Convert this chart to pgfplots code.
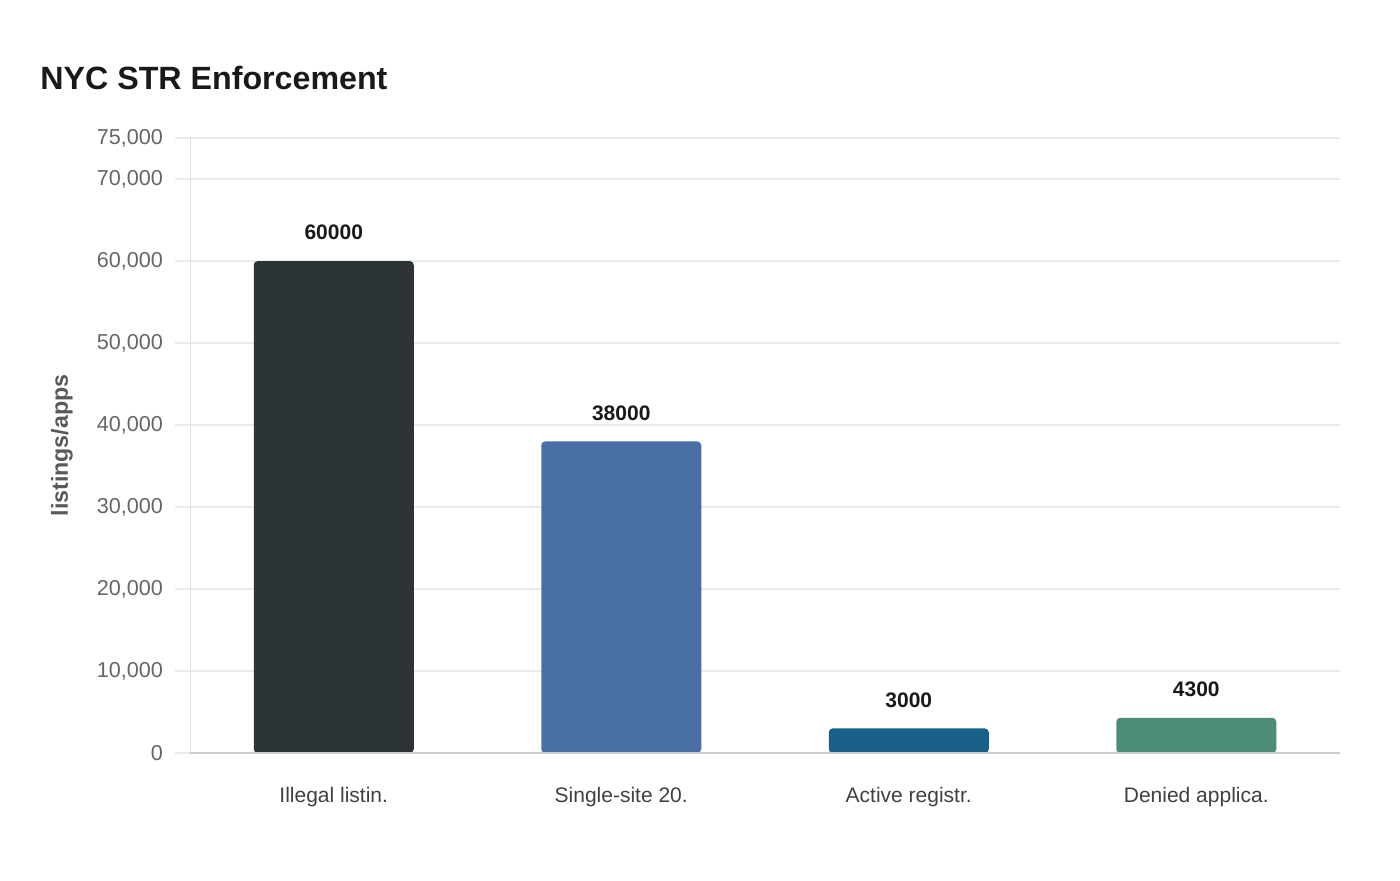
\documentclass[border=0pt]{standalone}
\usepackage{fontspec}
\setmainfont{Liberation Sans}
\usepackage{pgfplots}
\pgfplotsset{compat=1.18}
\definecolor{barA}{HTML}{2D3436}
\definecolor{barB}{HTML}{4A6FA5}
\definecolor{barC}{HTML}{186088}
\definecolor{barD}{HTML}{4E8C7A}
\definecolor{gridc}{HTML}{EBEBEB}
\definecolor{ticktext}{HTML}{666666}
\begin{document}
\begin{tikzpicture}
\path[use as bounding box] (-95pt,-63.5pt) rectangle (605pt,376.5pt);
\begin{axis}[
    at={(0,0)}, anchor=south west,
    scale only axis,
    width=575pt, height=307.5pt,
    ybar, bar width=80pt, bar shift=0pt,
    xmin=-0.5, xmax=3.5,
    ymin=0, ymax=75000,
    xtick={0,1,2,3},
    xticklabels={Illegal listin., Single-site 20., Active registr., Denied applica.},
    ytick={0,10000,20000,30000,40000,50000,60000,70000,75000},
    scaled y ticks=false,
    /pgf/number format/.cd, 1000 sep={,}, assume math mode=true, /pgfplots/.cd,
    axis x line=bottom, axis y line=left,
    x axis line style={-, draw=black!20, line width=0.8pt},
    y axis line style={-, draw=black!13},
    ymajorgrids, grid style={gridc, line width=0.8pt},
    ytick style={gridc, line width=0.8pt},
    xtick style={draw=none},
    major tick length=7.5pt, tick align=outside,
    yticklabel style={font=\fontsize{10.8}{12}\selectfont, text=ticktext, xshift=-2.5pt},
    xticklabel style={font=\fontsize{10.5}{12}\selectfont, text=black!75, yshift=-6pt},
    ylabel={listings/apps},
    every axis y label/.style={at={(axis description cs:-0.1113,0.5)}, rotate=90, anchor=center, font=\fontsize{11.6}{13}\selectfont\bfseries, text=black!65},
    nodes near coords,
    every node near coord/.append style={font=\fontsize{10.5}{12}\selectfont\bfseries, text=black!90, yshift=7pt, /pgf/number format/fixed, /pgf/number format/1000 sep={}},
    clip=false,
]
\addplot[fill=barA, draw=none, rounded corners=2pt] coordinates {(0,60000)};
\addplot[fill=barB, draw=none, rounded corners=2pt] coordinates {(1,38000)};
\addplot[fill=barC, draw=none, rounded corners=2pt] coordinates {(2,3000)};
\addplot[fill=barD, draw=none, rounded corners=2pt] coordinates {(3,4300)};
\draw[draw=black!20, line width=0.8pt] (axis cs:-0.5,0) -- (axis cs:3.5,0);
\end{axis}
\node[anchor=west, inner sep=0pt, font=\fontsize{16.1}{18}\selectfont\bfseries, text=black!90] at (-75pt,337.5pt) {NYC STR Enforcement};
\end{tikzpicture}
\end{document}
